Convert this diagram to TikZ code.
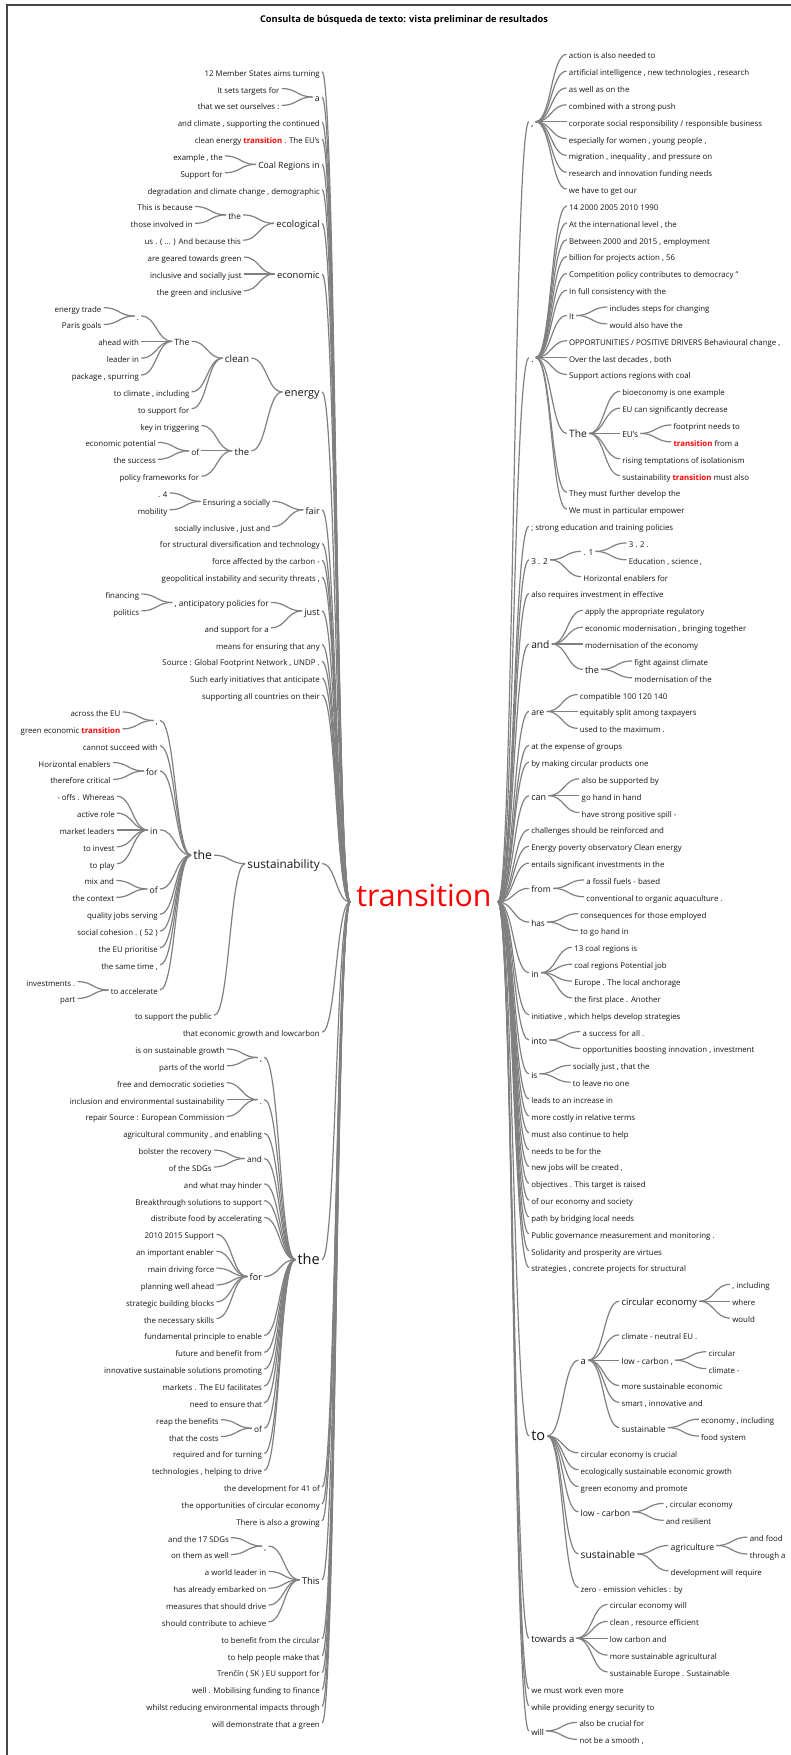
\documentclass[tikz,border=0pt]{standalone}
\usepackage{fontspec}
\setmainfont{Open Sans}
\usetikzlibrary{calc}
\definecolor{lc}{RGB}{128,128,128}
\definecolor{txt}{RGB}{20,20,20}
\definecolor{frm}{RGB}{70,70,70}
\newcommand\fs[1]{\fontsize{\fpeval{5.9*(#1)}}{\fpeval{7*(#1)}}\selectfont}
\newcommand\trw{\textcolor{red}{\textbf{transition}}}
\newcommand\lk[2]{\draw[conn] let \p1=(#1),\p2=(#2) in (\p1) .. controls ({(\x1+\x2)/2},\y1) and ({(\x1+\x2)/2},\y2) .. (\p2);}
\newcommand\LL[4]{\node[w,sz=#3,anchor=east] (#1) at (322,{71.7+16.85*(#2)}) {#4};\lk{#1.east}{root.west}}
\newcommand\LC[5]{\node[w,sz=#4,anchor=east,xshift=-23.25pt] (#1) at (#2.west |- 0,{71.7+16.85*(#3)}) {#5};\lk{#1.east}{#2.west}}
\newcommand\RL[4]{\node[w,sz=#3,anchor=west] (#1) at (529,{54.3+16.85*(#2)}) {#4};\lk{root.east}{#1.west}}
\newcommand\RC[5]{\node[w,sz=#4,anchor=west,xshift=23.25pt] (#1) at (#2.east |- 0,{54.3+16.85*(#3)}) {#5};\lk{#2.east}{#1.west}}
\begin{document}
\begin{tikzpicture}[x=0.75pt,y=-0.75pt,
  w/.style={text=txt,inner xsep=1.5pt,inner ysep=0pt,text height=1.5ex,text depth=.25ex},
  sz/.style={font=\fs{#1}},
  conn/.style={draw=lc,line width=0.9pt},
  frame/.style={draw=frm,line width=1.1pt}]
\useasboundingbox (0,0) rectangle (791,1755);
\draw[frame] (7,1755) -- (7,5) -- (791,5);
\node[font=\bfseries\fs{1.18},text=black] (title) at (404,20) {Consulta de búsqueda de texto: vista preliminar de resultados};
\node[text=red,font=\fontsize{22.7}{26}\selectfont,inner xsep=4.5pt,inner ysep=0pt,text height=1.5ex,text depth=.25ex] (root) at (424,902) {transition};
% ---------------- LEFT ----------------
\LL{l0}{0}{1}{12 Member States aims turning}
\LL{la}{1.5}{1.1}{a}
 \LC{la1}{la}{1}{1}{It sets targets for}
 \LC{la2}{la}{2}{1}{that we set ourselves :}
\LL{l3}{3}{1}{and climate , supporting the continued}
\LL{l4}{4}{1}{clean energy \trw{} . The EU's}
\LL{lcr}{5.5}{1.1}{Coal Regions in}
 \LC{lcr1}{lcr}{5}{1}{example , the}
 \LC{lcr2}{lcr}{6}{1}{Support for}
\LL{l7}{7}{1}{degradation and climate change , demographic}
\LL{leco}{9}{1.2}{ecological}
 \LC{lecot}{leco}{8.5}{1.05}{the}
  \LC{lecot1}{lecot}{8}{1}{This is because}
  \LC{lecot2}{lecot}{9}{1}{those involved in}
 \LC{leco3}{leco}{10}{1}{us . ( ... ) And because this}
\LL{lec}{12}{1.2}{economic}
 \LC{lec1}{lec}{11}{1}{are geared towards green}
 \LC{lec2}{lec}{12}{1}{inclusive and socially just}
 \LC{lec3}{lec}{13}{1}{the green and inclusive}
\LL{len}{19}{1.4}{energy}
 \LC{lcl}{len}{17}{1.25}{clean}
  \LC{lclT}{lcl}{16}{1.1}{The}
   \LC{lclTd}{lclT}{14.5}{1}{.}
    \LC{x1}{lclTd}{14}{1}{energy trade}
    \LC{x2}{lclTd}{15}{1}{Paris goals}
   \LC{x3}{lclT}{16}{1}{ahead with}
   \LC{x4}{lclT}{17}{1}{leader in}
   \LC{x5}{lclT}{18}{1}{package , spurring}
  \LC{x6}{lcl}{19}{1}{to climate , including}
  \LC{x7}{lcl}{20}{1}{to support for}
 \LC{lthe}{len}{22.5}{1.2}{the}
  \LC{x8}{lthe}{21}{1}{key in triggering}
  \LC{lof}{lthe}{22.5}{1.05}{of}
   \LC{x9}{lof}{22}{1}{economic potential}
   \LC{x10}{lof}{23}{1}{the success}
  \LC{x11}{lthe}{24}{1}{policy frameworks for}
\LL{lfair}{26}{1.15}{fair}
 \LC{lens}{lfair}{25.5}{1}{Ensuring a socially}
  \LC{x12}{lens}{25}{1}{. 4}
  \LC{x13}{lens}{26}{1}{mobility}
 \LC{x14}{lfair}{27}{1}{socially inclusive , just and}
\LL{l28}{28}{1}{for structural diversification and technology}
\LL{l29}{29}{1}{force affected by the carbon -}
\LL{l30}{30}{1}{geopolitical instability and security threats ,}
\LL{ljust}{32}{1.15}{just}
 \LC{lant}{ljust}{31.5}{1.05}{, anticipatory policies for}
  \LC{x15}{lant}{31}{1}{financing}
  \LC{x16}{lant}{32}{1}{politics}
 \LC{x17}{ljust}{33}{1}{and support for a}
\LL{l34}{34}{1}{means for ensuring that any}
\LL{l35}{35}{1}{Source : Global Footprint Network , UNDP .}
\LL{l36}{36}{1}{Such early initiatives that anticipate}
\LL{l37}{37}{1}{supporting all countries on their}
\LL{lsus}{47}{1.5}{sustainability}
 \LC{lsth}{lsus}{46.5}{1.55}{the}
  \LC{lsc}{lsth}{38.5}{1}{,}
   \LC{x18}{lsc}{38}{1}{across the EU}
   \LC{x19}{lsc}{39}{1}{green economic \trw}
  \LC{x20}{lsth}{40}{1}{cannot succeed with}
  \LC{lsfor}{lsth}{41.5}{1.1}{for}
   \LC{x21}{lsfor}{41}{1}{Horizontal enablers}
   \LC{x22}{lsfor}{42}{1}{therefore critical}
  \LC{lsin}{lsth}{45}{1.1}{in}
   \LC{x23}{lsin}{43}{1}{- offs . Whereas}
   \LC{x24}{lsin}{44}{1}{active role}
   \LC{x25}{lsin}{45}{1}{market leaders}
   \LC{x26}{lsin}{46}{1}{to invest}
   \LC{x27}{lsin}{47}{1}{to play}
  \LC{lsof}{lsth}{48.5}{1.1}{of}
   \LC{x28}{lsof}{48}{1}{mix and}
   \LC{x29}{lsof}{49}{1}{the context}
  \LC{x30}{lsth}{50}{1}{quality jobs serving}
  \LC{x31}{lsth}{51}{1}{social cohesion . ( 52 )}
  \LC{x32}{lsth}{52}{1}{the EU prioritise}
  \LC{x33}{lsth}{53}{1}{the same time ,}
  \LC{lsacc}{lsth}{54.5}{1}{to accelerate}
   \LC{x34}{lsacc}{54}{1}{investments .}
   \LC{x35}{lsacc}{55}{1}{part}
 \LC{x36}{lsus}{56}{1}{to support the public}
\LL{l57}{57}{1}{that economic growth and lowcarbon}
\LL{lbig}{70.5}{1.85}{the}
 \LC{lbc}{lbig}{58.5}{1}{,}
  \LC{y1}{lbc}{58}{1}{is on sustainable growth}
  \LC{y2}{lbc}{59}{1}{parts of the world}
 \LC{lbd}{lbig}{61}{1}{.}
  \LC{y3}{lbd}{60}{1}{free and democratic societies}
  \LC{y4}{lbd}{61}{1}{inclusion and environmental sustainability}
  \LC{y5}{lbd}{62}{1}{repair Source : European Commission}
 \LC{y6}{lbig}{63}{1}{agricultural community , and enabling}
 \LC{lband}{lbig}{64.5}{1.05}{and}
  \LC{y7}{lband}{64}{1}{bolster the recovery}
  \LC{y8}{lband}{65}{1}{of the SDGs}
 \LC{y9}{lbig}{66}{1}{and what may hinder}
 \LC{y10}{lbig}{67}{1}{Breakthrough solutions to support}
 \LC{y11}{lbig}{68}{1}{distribute food by accelerating}
 \LC{lbfor}{lbig}{71.5}{1.15}{for}
  \LC{y12}{lbfor}{69}{1}{2010 2015 Support}
  \LC{y13}{lbfor}{70}{1}{an important enabler}
  \LC{y14}{lbfor}{71}{1}{main driving force}
  \LC{y15}{lbfor}{72}{1}{planning well ahead}
  \LC{y16}{lbfor}{73}{1}{strategic building blocks}
  \LC{y17}{lbfor}{74}{1}{the necessary skills}
 \LC{y18}{lbig}{75}{1}{fundamental principle to enable}
 \LC{y19}{lbig}{76}{1}{future and benefit from}
 \LC{y20}{lbig}{77}{1}{innovative sustainable solutions promoting}
 \LC{y21}{lbig}{78}{1}{markets . The EU facilitates}
 \LC{y22}{lbig}{79}{1}{need to ensure that}
 \LC{lbof}{lbig}{80.5}{1.05}{of}
  \LC{y23}{lbof}{80}{1}{reap the benefits}
  \LC{y24}{lbof}{81}{1}{that the costs}
 \LC{y25}{lbig}{82}{1}{required and for turning}
 \LC{y26}{lbig}{83}{1}{technologies , helping to drive}
\LL{l84}{84}{1}{the development for 41 of}
\LL{l85}{85}{1}{the opportunities of circular economy}
\LL{l86}{86}{1}{There is also a growing}
\LL{lthis}{89.5}{1.2}{This}
 \LC{ltc}{lthis}{87.5}{1}{,}
  \LC{y27}{ltc}{87}{1}{and the 17 SDGs}
  \LC{y28}{ltc}{88}{1}{on them as well}
 \LC{y29}{lthis}{89}{1}{a world leader in}
 \LC{y30}{lthis}{90}{1}{has already embarked on}
 \LC{y31}{lthis}{91}{1}{measures that should drive}
 \LC{y32}{lthis}{92}{1}{should contribute to achieve}
\LL{l93}{93}{1}{to benefit from the circular}
\LL{l94}{94}{1}{to help people make that}
\LL{l95}{95}{1}{Trenčín ( SK ) EU support for}
\LL{l96}{96}{1}{well . Mobilising funding to finance}
\LL{l97}{97}{1}{whilst reducing environmental impacts through}
\LL{l98}{98}{1}{will demonstrate that a green}
% ---------------- RIGHT ----------------
\RL{rc}{4}{1.1}{,}
 \RC{z0}{rc}{0}{1}{action is also needed to}
 \RC{z1}{rc}{1}{1}{artificial intelligence , new technologies , research}
 \RC{z2}{rc}{2}{1}{as well as on the}
 \RC{z3}{rc}{3}{1}{combined with a strong push}
 \RC{z4}{rc}{4}{1}{corporate social responsibility / responsible business}
 \RC{z5}{rc}{5}{1}{especially for women , young people ,}
 \RC{z6}{rc}{6}{1}{migration , inequality , and pressure on}
 \RC{z7}{rc}{7}{1}{research and innovation funding needs}
 \RC{z8}{rc}{8}{1}{we have to get our}
\RL{rd}{18}{1.1}{.}
 \RC{z9}{rd}{9}{1}{14 2000 2005 2010 1990}
 \RC{z10}{rd}{10}{1}{At the international level , the}
 \RC{z11}{rd}{11}{1}{Between 2000 and 2015 , employment}
 \RC{z12}{rd}{12}{1}{billion for projects action , 56}
 \RC{z13}{rd}{13}{1}{Competition policy contributes to democracy "}
 \RC{z14}{rd}{14}{1}{In full consistency with the}
 \RC{rIt}{rd}{15.5}{1}{It}
  \RC{z15}{rIt}{15}{1}{includes steps for changing}
  \RC{z16}{rIt}{16}{1}{would also have the}
 \RC{z17}{rd}{17}{1}{OPPORTUNITIES / POSITIVE DRIVERS Behavioural change ,}
 \RC{z18}{rd}{18}{1}{Over the last decades , both}
 \RC{z19}{rd}{19}{1}{Support actions regions with coal}
 \RC{rThe}{rd}{22.5}{1.3}{The}
  \RC{z20}{rThe}{20}{1}{bioeconomy is one example}
  \RC{z21}{rThe}{21}{1}{EU can significantly decrease}
  \RC{rEUs}{rThe}{22.5}{1.05}{EU's}
   \RC{z22}{rEUs}{22}{1}{footprint needs to}
   \RC{z23}{rEUs}{23}{1}{\trw{} from a}
  \RC{z24}{rThe}{24}{1}{rising temptations of isolationism}
  \RC{z25}{rThe}{25}{1}{sustainability \trw{} must also}
 \RC{z26}{rd}{26}{1}{They must further develop the}
 \RC{z27}{rd}{27}{1}{We must in particular empower}
\RL{r28}{28}{1}{; strong education and training policies}
\RL{r32n}{30}{1.05}{3 . 2}
 \RC{r1}{r32n}{29.5}{1.05}{. 1}
  \RC{z29}{r1}{29}{1}{3 . 2 .}
  \RC{z30}{r1}{30}{1}{Education , science ,}
 \RC{z31}{r32n}{31}{1}{Horizontal enablers for}
\RL{r32}{32}{1}{also requires investment in effective}
\RL{rand}{35}{1.3}{and}
 \RC{z33}{rand}{33}{1}{apply the appropriate regulatory}
 \RC{z34}{rand}{34}{1}{economic modernisation , bringing together}
 \RC{z35}{rand}{35}{1}{modernisation of the economy}
 \RC{randthe}{rand}{36.5}{1.15}{the}
  \RC{z36}{randthe}{36}{1}{fight against climate}
  \RC{z37}{randthe}{37}{1}{modernisation of the}
\RL{rare}{39}{1.1}{are}
 \RC{z38}{rare}{38}{1}{compatible 100 120 140}
 \RC{z39}{rare}{39}{1}{equitably split among taxpayers}
 \RC{z40}{rare}{40}{1}{used to the maximum .}
\RL{r41}{41}{1}{at the expense of groups}
\RL{r42}{42}{1}{by making circular products one}
\RL{rcan}{44}{1.15}{can}
 \RC{z43}{rcan}{43}{1}{also be supported by}
 \RC{z44}{rcan}{44}{1}{go hand in hand}
 \RC{z45}{rcan}{45}{1}{have strong positive spill -}
\RL{r46}{46}{1}{challenges should be reinforced and}
\RL{r47}{47}{1}{Energy poverty observatory Clean energy}
\RL{r48}{48}{1}{entails significant investments in the}
\RL{rfrom}{49.5}{1.1}{from}
 \RC{z49}{rfrom}{49}{1}{a fossil fuels - based}
 \RC{z50}{rfrom}{50}{1}{conventional to organic aquaculture .}
\RL{rhas}{51.5}{1.05}{has}
 \RC{z51}{rhas}{51}{1}{consequences for those employed}
 \RC{z52}{rhas}{52}{1}{to go hand in}
\RL{rin}{54.5}{1.1}{in}
 \RC{z53}{rin}{53}{1}{13 coal regions is}
 \RC{z54}{rin}{54}{1}{coal regions Potential job}
 \RC{z55}{rin}{55}{1}{Europe . The local anchorage}
 \RC{z56}{rin}{56}{1}{the first place . Another}
\RL{r57}{57}{1}{initiative , which helps develop strategies}
\RL{rinto}{58.5}{1.1}{into}
 \RC{z58}{rinto}{58}{1}{a success for all .}
 \RC{z59}{rinto}{59}{1}{opportunities boosting innovation , investment}
\RL{ris}{60.5}{1.05}{is}
 \RC{z60}{ris}{60}{1}{socially just , that the}
 \RC{z61}{ris}{61}{1}{to leave no one}
\RL{r62}{62}{1}{leads to an increase in}
\RL{r63}{63}{1}{more costly in relative terms}
\RL{r64}{64}{1}{must also continue to help}
\RL{r65}{65}{1}{needs to be for the}
\RL{r66}{66}{1}{new jobs will be created ,}
\RL{r67}{67}{1}{objectives . This target is raised}
\RL{r68}{68}{1}{of our economy and society}
\RL{r69}{69}{1}{path by bridging local needs}
\RL{r70}{70}{1}{Public governance measurement and monitoring .}
\RL{r71}{71}{1}{Solidarity and prosperity are virtues}
\RL{r72}{72}{1}{strategies , concrete projects for structural}
\RL{rto}{82}{1.85}{to}
 \RC{ra}{rto}{77.5}{1.2}{a}
  \RC{rce}{ra}{74}{1.2}{circular economy}
   \RC{z73}{rce}{73}{1}{, including}
   \RC{z74}{rce}{74}{1}{where}
   \RC{z75}{rce}{75}{1}{would}
  \RC{z76}{ra}{76}{1}{climate - neutral EU .}
  \RC{rlc}{ra}{77.5}{1.05}{low - carbon ,}
   \RC{z77}{rlc}{77}{1}{circular}
   \RC{z78}{rlc}{78}{1}{climate -}
  \RC{z79}{ra}{79}{1}{more sustainable economic}
  \RC{z80}{ra}{80}{1}{smart , innovative and}
  \RC{rsus}{ra}{81.5}{1.05}{sustainable}
   \RC{z81}{rsus}{81}{1}{economy , including}
   \RC{z82}{rsus}{82}{1}{food system}
 \RC{z83}{rto}{83}{1}{circular economy is crucial}
 \RC{z84}{rto}{84}{1}{ecologically sustainable economic growth}
 \RC{z85}{rto}{85}{1}{green economy and promote}
 \RC{rlc2}{rto}{86.5}{1.1}{low - carbon}
  \RC{z86}{rlc2}{86}{1}{, circular economy}
  \RC{z87}{rlc2}{87}{1}{and resilient}
 \RC{rsus2}{rto}{89}{1.3}{sustainable}
  \RC{ragr}{rsus2}{88.5}{1.1}{agriculture}
   \RC{z88}{ragr}{88}{1}{and food}
   \RC{z89}{ragr}{89}{1}{through a}
  \RC{z90}{rsus2}{90}{1}{development will require}
 \RC{z91}{rto}{91}{1}{zero - emission vehicles : by}
\RL{rtow}{94}{1.2}{towards a}
 \RC{z92}{rtow}{92}{1}{circular economy will}
 \RC{z93}{rtow}{93}{1}{clean , resource efficient}
 \RC{z94}{rtow}{94}{1}{low carbon and}
 \RC{z95}{rtow}{95}{1}{more sustainable agricultural}
 \RC{z96}{rtow}{96}{1}{sustainable Europe . Sustainable}
\RL{r97}{97}{1}{we must work even more}
\RL{r98}{98}{1}{while providing energy security to}
\RL{rwill}{99.5}{1.05}{will}
 \RC{z99}{rwill}{99}{1}{also be crucial for}
 \RC{z100}{rwill}{100}{1}{not be a smooth ,}
\end{tikzpicture}
\end{document}
